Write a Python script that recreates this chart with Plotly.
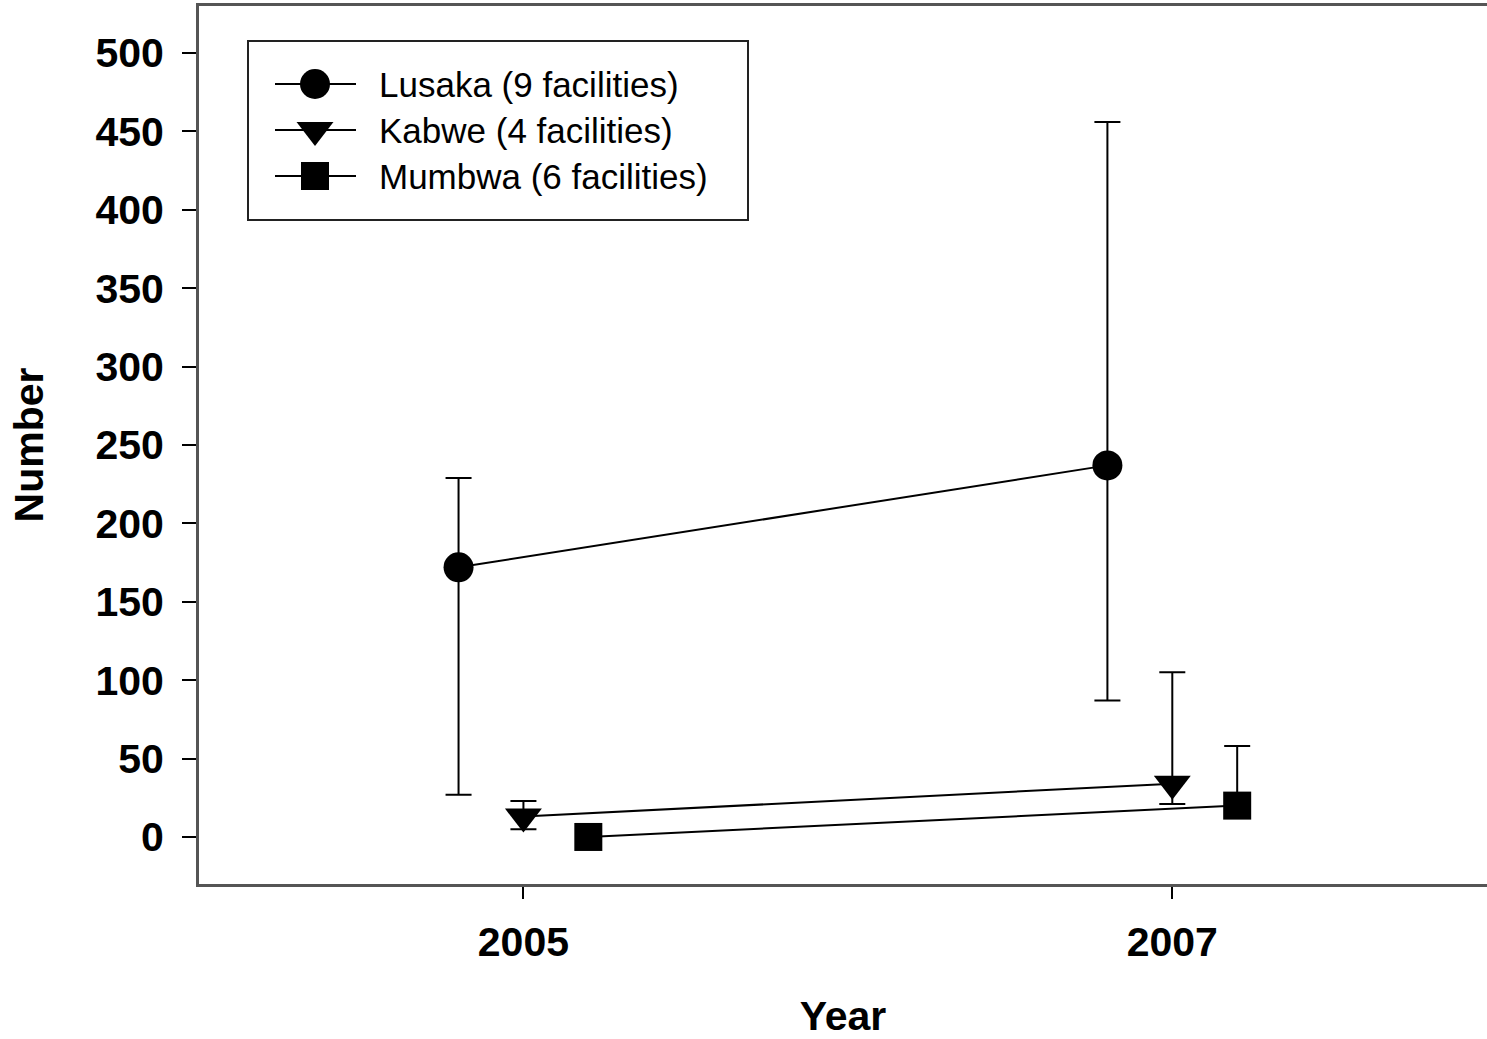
import plotly.graph_objects as go

# Survey years and facility groups
years = [2005, 2007]
year_labels = ["2005", "2007"]
series_names = ["Lusaka (9 facilities)", "Kabwe (4 facilities)", "Mumbwa (6 facilities)"]

# Mean counts per year with upper / lower error extents
lusaka_mean = [172, 237]
lusaka_err_plus = [57, 219]
lusaka_err_minus = [145, 150]

kabwe_mean = [13, 34]
kabwe_err_plus = [10, 71]
kabwe_err_minus = [8, 13]

mumbwa_mean = [0, 20]
mumbwa_err_plus = [0, 38]
mumbwa_err_minus = [0, 0]

y_ticks = list(range(0, 501, 50))

# Horizontal dodge so groups don't overlap at each year
dodge = {"Lusaka (9 facilities)": -0.2, "Kabwe (4 facilities)": 0.0, "Mumbwa (6 facilities)": 0.2}
symbols = {"Lusaka (9 facilities)": ("circle", 30),
           "Kabwe (4 facilities)": ("triangle-down", 32),
           "Mumbwa (6 facilities)": ("square", 28)}

series = [
    (series_names[0], lusaka_mean, lusaka_err_plus, lusaka_err_minus),
    (series_names[1], kabwe_mean, kabwe_err_plus, kabwe_err_minus),
    (series_names[2], mumbwa_mean, mumbwa_err_plus, mumbwa_err_minus),
]

W, H = 1487, 1039
ML, MR, MT, MB = 199, 0, 6, 155
PW, PH = W - ML - MR, H - MT - MB

fig = go.Figure()

for name, mean, ep, em in series:
    sym, size = symbols[name]
    fig.add_trace(go.Scatter(
        x=[y + dodge[name] for y in years],
        y=mean,
        mode="lines+markers",
        name=name,
        showlegend=False,
        line=dict(color="black", width=2),
        marker=dict(symbol=sym, size=size, color="black", line=dict(width=0)),
        error_y=dict(type="data", symmetric=False, array=ep, arrayminus=em,
                     color="black", thickness=2, width=13),
    ))

# Legend key drawn on an overlay axis measured in plot-area pixels
row_y = [PH - 78, PH - 124, PH - 170]
key_x0, key_xm, key_x1, text_x = 76, 116, 157, 178
for (name, *_), ry in zip(series, row_y):
    sym, size = symbols[name]
    fig.add_trace(go.Scatter(
        x=[key_x0, key_x1], y=[ry, ry], mode="lines",
        line=dict(color="black", width=2), showlegend=False, hoverinfo="skip",
        xaxis="x2", yaxis="y2",
    ))
    fig.add_trace(go.Scatter(
        x=[key_xm], y=[ry], mode="markers",
        marker=dict(symbol=sym, size=size, color="black", line=dict(width=0)),
        showlegend=False, hoverinfo="skip", xaxis="x2", yaxis="y2",
    ))
    fig.add_annotation(x=text_x, y=ry, xref="x2", yref="y2", text=name,
                       showarrow=False, xanchor="left", yanchor="middle",
                       font=dict(family="Liberation Sans", size=35, color="black"))

fig.add_shape(type="rect", xref="x2", yref="y2",
              x0=49, x1=549, y0=PH - 214, y1=PH - 35,
              line=dict(color="#222", width=2), fillcolor="rgba(0,0,0,0)")

bold = dict(family="Liberation Sans", size=41, color="black", weight="bold")

fig.update_layout(
    width=W, height=H,
    margin=dict(l=ML, r=MR, t=MT, b=MB, autoexpand=False),
    paper_bgcolor="white", plot_bgcolor="white",
    showlegend=False,
    xaxis=dict(
        range=[2004, 2007.97], tickmode="array", tickvals=years, ticktext=year_labels,
        ticks="outside", ticklen=12, tickwidth=1.5, tickcolor="black",
        showline=True, linecolor="#555", linewidth=3, mirror=True,
        showgrid=False, zeroline=False, tickfont=bold, ticklabelstandoff=8,
        title=dict(text="Year", font=bold, standoff=46),
    ),
    yaxis=dict(
        range=[-30, 530], tickmode="array", tickvals=y_ticks,
        ticks="outside", ticklen=14, tickwidth=2, tickcolor="black",
        showline=True, linecolor="#555", linewidth=3,
        showgrid=False, zeroline=False, tickfont=bold, ticklabelstandoff=10,
        title=dict(text="Number", font=bold, standoff=40),
    ),
    xaxis2=dict(overlaying="x", range=[0, PW], visible=False, fixedrange=True),
    yaxis2=dict(overlaying="y", range=[0, PH], visible=False, fixedrange=True),
)

fig.write_html("out.html")
